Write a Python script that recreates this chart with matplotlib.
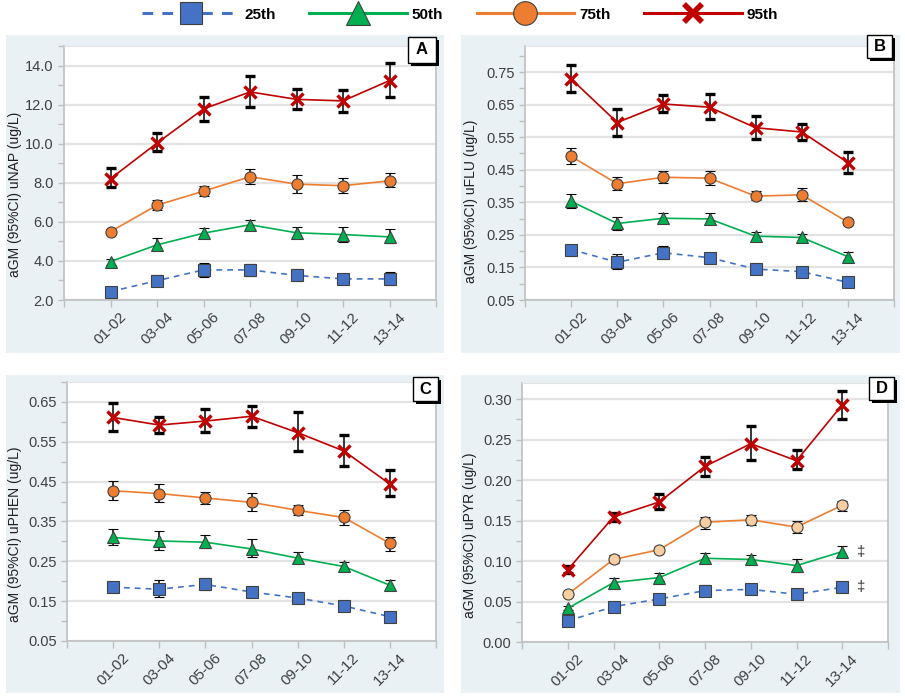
"""
Four-panel aGM percentile trends (uNAP, uFLU, uPHEN, uPYR) by survey cycle.
Writes out.png
"""
import matplotlib
matplotlib.use("Agg")
import matplotlib.pyplot as plt  # noqa: E402
from matplotlib.lines import Line2D  # noqa: E402
from matplotlib.patches import Rectangle  # noqa: E402
from matplotlib.ticker import FormatStrFormatter, MultipleLocator  # noqa: E402

plt.rcParams["font.family"] = ["Liberation Sans", "DejaVu Sans"]

PERIODS = ["01-02", "03-04", "05-06", "07-08", "09-10", "11-12", "13-14"]
PCT_NAMES = ["25th", "50th", "75th", "95th"]

# --- A: uNAP ---
NAP_25 = [2.43, 2.99, 3.54, 3.54, 3.26, 3.08, 3.08]
NAP_25_LO = [2.35, 2.75, 3.18, 3.25, 2.97, 2.82, 2.75]
NAP_25_HI = [2.52, 3.26, 3.91, 3.83, 3.59, 3.35, 3.42]
NAP_50 = [3.97, 4.82, 5.42, 5.85, 5.44, 5.35, 5.23]
NAP_50_LO = [3.81, 4.56, 5.16, 5.59, 5.16, 4.96, 4.94]
NAP_50_HI = [4.12, 5.16, 5.66, 6.07, 5.73, 5.74, 5.63]
NAP_75 = [5.50, 6.85, 7.57, 8.31, 7.93, 7.85, 8.10]
NAP_75_LO = [5.38, 6.60, 7.30, 7.93, 7.49, 7.49, 7.76]
NAP_75_HI = [5.65, 7.13, 7.86, 8.72, 8.39, 8.22, 8.48]
NAP_95 = [8.21, 10.03, 11.78, 12.65, 12.27, 12.19, 13.23]
NAP_95_LO = [7.76, 9.61, 11.18, 11.86, 11.78, 11.62, 12.38]
NAP_95_HI = [8.75, 10.53, 12.39, 13.49, 12.82, 12.77, 14.14]

# --- B: uFLU ---
FLU_25 = [0.205, 0.166, 0.195, 0.180, 0.145, 0.137, 0.104]
FLU_25_LO = [0.198, 0.145, 0.175, 0.169, 0.139, 0.131, 0.099]
FLU_25_HI = [0.212, 0.191, 0.216, 0.192, 0.151, 0.143, 0.109]
FLU_50 = [0.353, 0.285, 0.301, 0.299, 0.246, 0.242, 0.183]
FLU_50_LO = [0.334, 0.266, 0.286, 0.283, 0.235, 0.231, 0.172]
FLU_50_HI = [0.374, 0.306, 0.318, 0.318, 0.260, 0.254, 0.196]
FLU_75 = [0.491, 0.407, 0.427, 0.424, 0.369, 0.373, 0.289]
FLU_75_LO = [0.467, 0.387, 0.409, 0.402, 0.356, 0.353, 0.279]
FLU_75_HI = [0.518, 0.429, 0.445, 0.446, 0.384, 0.395, 0.299]
FLU_95 = [0.729, 0.595, 0.652, 0.642, 0.579, 0.566, 0.472]
FLU_95_LO = [0.688, 0.555, 0.628, 0.606, 0.545, 0.542, 0.440]
FLU_95_HI = [0.773, 0.637, 0.678, 0.684, 0.616, 0.592, 0.506]

# --- C: uPHEN ---
PHEN_25 = [0.185, 0.180, 0.192, 0.173, 0.158, 0.138, 0.111]
PHEN_25_LO = [0.179, 0.161, 0.177, 0.161, 0.147, 0.133, 0.106]
PHEN_25_HI = [0.191, 0.202, 0.208, 0.186, 0.167, 0.143, 0.116]
PHEN_50 = [0.310, 0.301, 0.298, 0.281, 0.258, 0.237, 0.190]
PHEN_50_LO = [0.292, 0.279, 0.283, 0.262, 0.245, 0.227, 0.180]
PHEN_50_HI = [0.332, 0.325, 0.317, 0.306, 0.274, 0.249, 0.203]
PHEN_75 = [0.427, 0.420, 0.409, 0.398, 0.378, 0.360, 0.295]
PHEN_75_LO = [0.404, 0.399, 0.394, 0.377, 0.367, 0.341, 0.277]
PHEN_75_HI = [0.452, 0.443, 0.425, 0.421, 0.391, 0.380, 0.311]
PHEN_95 = [0.611, 0.592, 0.602, 0.614, 0.573, 0.527, 0.444]
PHEN_95_LO = [0.576, 0.573, 0.575, 0.588, 0.526, 0.488, 0.413]
PHEN_95_HI = [0.647, 0.611, 0.631, 0.640, 0.625, 0.568, 0.479]

# --- D: uPYR ---
PYR_25 = [0.026, 0.0437, 0.0532, 0.0635, 0.065, 0.059, 0.0676]
PYR_25_LO = [0.025, 0.037, 0.051, 0.057, 0.062, 0.057, 0.062]
PYR_25_HI = [0.027, 0.049, 0.056, 0.070, 0.068, 0.061, 0.073]
PYR_50 = [0.0416, 0.0734, 0.0796, 0.1034, 0.102, 0.0944, 0.1117]
PYR_50_LO = [0.040, 0.069, 0.075, 0.098, 0.097, 0.087, 0.106]
PYR_50_HI = [0.044, 0.079, 0.085, 0.110, 0.108, 0.102, 0.118]
PYR_75 = [0.059, 0.102, 0.114, 0.148, 0.151, 0.142, 0.169]
PYR_75_LO = [0.057, 0.097, 0.111, 0.140, 0.145, 0.135, 0.162]
PYR_75_HI = [0.061, 0.108, 0.117, 0.155, 0.157, 0.149, 0.174]
PYR_95 = [0.0894, 0.1545, 0.173, 0.217, 0.245, 0.224, 0.293]
PYR_95_LO = [0.085, 0.150, 0.164, 0.205, 0.225, 0.214, 0.276]
PYR_95_HI = [0.094, 0.159, 0.183, 0.229, 0.267, 0.237, 0.310]

# dagger marks next to 13-14 in panel D (50th and 25th)
PYR_DAGGER_Y = [PYR_50[-1], PYR_25[-1]]

BG = "#e9f1f5"
EDGE = "#404040"
STYLES = [
    dict(color="#4472c4", ls=(0, (3.5, 3)), marker="s", mfc="#4472c4", mec=EDGE, ms=8, mew=0.8),
    dict(color="#00b050", ls="-", marker="^", mfc="#00b050", mec=EDGE, ms=8.5, mew=0.8),
    dict(color="#ed7d31", ls="-", marker="o", mfc="#ed7d31", mec=EDGE, ms=8, mew=0.8),
    dict(color="#c00000", ls="-", marker="x", mfc="#c00000", mec="#c00000", ms=9, mew=2.4),
]


def px(x, y):
    """pixel coords (top-left origin) -> figure fraction"""
    return x / 905, 1 - y / 700


def panel_box(fig, x0, y0, x1, y1):
    fx, fy = px(x0, y1)
    fig.patches.append(Rectangle((fx, fy), (x1 - x0) / 905, (y1 - y0) / 700,
                                 transform=fig.transFigure, facecolor=BG,
                                 edgecolor="none", zorder=-10))


def label_box(fig, letter, x0, y0, x1, y1):
    w, h = (x1 - x0) / 905, (y1 - y0) / 700
    sx, sy = px(x0 + 3, y1 + 3)
    fig.patches.append(Rectangle((sx, sy), w, h, transform=fig.transFigure,
                                 facecolor="black", edgecolor="none", zorder=20))
    fx, fy = px(x0, y1)
    fig.patches.append(Rectangle((fx, fy), w, h, transform=fig.transFigure,
                                 facecolor="white", edgecolor="black", lw=1.0, zorder=21))
    cx, cy = px((x0 + x1) / 2, (y0 + y1) / 2)
    fig.text(cx, cy, letter, ha="center", va="center", fontsize=12,
             fontweight="bold", zorder=22)


def main() -> None:
    fig = plt.figure(figsize=(9.05, 7.0), dpi=100)

    panels = [
        ("A", "aGM (95%CI) uNAP (ug/L)",
         [(NAP_25, NAP_25_LO, NAP_25_HI), (NAP_50, NAP_50_LO, NAP_50_HI),
          (NAP_75, NAP_75_LO, NAP_75_HI), (NAP_95, NAP_95_LO, NAP_95_HI)],
         (2.0, 15.0), 2.0, "%.1f", (64, 46, 436, 300), (6, 35, 444, 353),
         (408, 37, 436, 63), (-0.114, 0.415)),
        ("B", "aGM (95%CI) uFLU (ug/L)",
         [(FLU_25, FLU_25_LO, FLU_25_HI), (FLU_50, FLU_50_LO, FLU_50_HI),
          (FLU_75, FLU_75_LO, FLU_75_HI), (FLU_95, FLU_95_LO, FLU_95_HI)],
         (0.05, 0.83), 0.1, "%.2f", (525, 46, 894, 300), (461, 35, 900, 353),
         (867, 35, 892, 58), (-0.128, 0.39)),
        ("C", "aGM (95%CI) uPHEN (ug/L)",
         [(PHEN_25, PHEN_25_LO, PHEN_25_HI), (PHEN_50, PHEN_50_LO, PHEN_50_HI),
          (PHEN_75, PHEN_75_LO, PHEN_75_HI), (PHEN_95, PHEN_95_LO, PHEN_95_HI)],
         (0.05, 0.70), 0.1, "%.2f", (67, 382, 436, 641), (6, 375, 444, 693),
         (413, 377, 438, 401), (-0.123, 0.413)),
        ("D", "aGM (95%CI) uPYR (ug/L)",
         [(PYR_25, PYR_25_LO, PYR_25_HI), (PYR_50, PYR_50_LO, PYR_50_HI),
          (PYR_75, PYR_75_LO, PYR_75_HI), (PYR_95, PYR_95_LO, PYR_95_HI)],
         (0.0, 0.32), 0.05, "%.2f", (522, 383, 888, 642), (461, 375, 900, 693),
         (869, 377, 894, 400), (-0.122, 0.413)),
    ]

    x = list(range(len(PERIODS)))
    for letter, ylab, series, ylim, step, fmt, ax_px, box_px, lab_px, lab_xy in panels:
        panel_box(fig, *box_px)
        l, t, r, b = ax_px
        fl, fb = px(l, b)
        ax = fig.add_axes([fl, fb, (r - l) / 905, (b - t) / 700])
        ax.set_facecolor("white")

        for i, (vals, lo, hi) in enumerate(series):
            st = dict(STYLES[i])
            if letter == "D" and i == 2:
                st["mfc"] = "#f8cfa0"
            err = [[v - a for v, a in zip(vals, lo)], [c - v for v, c in zip(vals, hi)]]
            ax.errorbar(x, vals, yerr=err, ecolor="black", elinewidth=1.1,
                        capsize=3.5, capthick=1.1, lw=1.2, zorder=3 + i, **st)

        if letter == "D":
            for yv in PYR_DAGGER_Y:
                ax.text(6.33, yv, "‡", fontsize=11, ha="left", va="center", color="#333333")

        ax.set_xlim(-1, 7)
        ax.set_ylim(*ylim)
        ax.set_xticks(x)
        ax.set_xticklabels(PERIODS, rotation=45, fontsize=11, color="#404040")
        ax.set_xticks([-1, 7], minor=True)
        ax.yaxis.set_major_locator(MultipleLocator(step, offset=ylim[0] % step))
        ax.yaxis.set_minor_locator(MultipleLocator(step / 2))
        ax.yaxis.set_major_formatter(FormatStrFormatter(fmt))
        ax.tick_params(axis="y", which="both", labelsize=10.5, labelcolor="#404040",
                       color="#bfbfbf", length=4, width=1.0)
        ax.tick_params(axis="x", which="both", color="#bfbfbf", length=5, width=1.0, pad=2)
        ax.grid(axis="y", which="major", color="#e3e3e3", lw=1.6, zorder=0)
        ax.set_axisbelow(True)
        for side in ("left", "bottom", "right"):
            ax.spines[side].set_color("#bfbfbf")
            ax.spines[side].set_linewidth(1.2)
        ax.spines["top"].set_color("#e3e3e3")
        ax.set_ylabel(ylab, fontsize=10, color="#202020")
        ax.yaxis.set_label_coords(*lab_xy)

        label_box(fig, letter, *lab_px)

    handles = []
    big = [16, 17, 17, 13]
    for i, name in enumerate(PCT_NAMES):
        st = dict(STYLES[i])
        st["ms"] = big[i]
        if i == 3:
            st["mew"] = 4
        handles.append(Line2D([], [], lw=2.2, label=name, **st))
    fig.legend(handles=handles, loc="center", bbox_to_anchor=(0.508, 0.979), ncol=4,
               frameon=False, handlelength=6.4, handletextpad=0.3, columnspacing=2.2,
               prop={"size": 11, "weight": "bold"})

    fig.savefig("out.png", dpi=100)


if __name__ == "__main__":
    main()
